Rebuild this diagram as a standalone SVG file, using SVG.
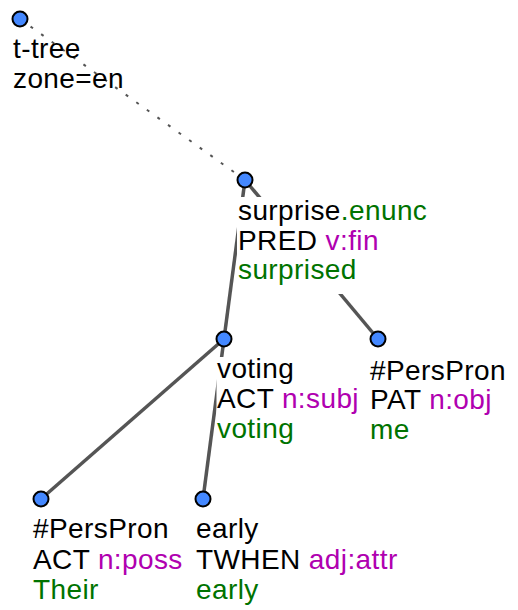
<svg xmlns="http://www.w3.org/2000/svg" width="518" height="610" viewBox="0 0 518 610">
<style>
text{font-family:"Liberation Sans",Arial,sans-serif;font-size:28px;letter-spacing:0.4px;fill:#000}
.g{fill:#007300}
.m{fill:#b000b0}
.e{stroke:#555;stroke-width:3.5;fill:none}
.d{stroke:#555;stroke-width:2;stroke-dasharray:3 10;fill:none}
.bg{fill:#fff}
.n{fill:#4488ff;stroke:#000;stroke-width:2}
</style>
<rect width="518" height="610" fill="#fff"/>
<g id="edges">
<line class="d" x1="20" y1="19" x2="245" y2="180"/>
<line class="e" x1="245" y1="180" x2="224" y2="339"/>
<line class="e" x1="245" y1="180" x2="378" y2="339"/>
<line class="e" x1="224" y1="339" x2="41" y2="499"/>
<line class="e" x1="224" y1="339" x2="203" y2="499"/>
</g>
<g id="root">
<circle class="n" cx="20" cy="19" r="7.5"/>
<text x="13" y="58">t-tree</text>
<text x="13" y="88">zone=en</text>
</g>
<g id="surprise">
<rect class="bg" x="237" y="197" width="193" height="97"/>
<circle class="n" cx="245" cy="180" r="7.5"/>
<text x="238" y="220">surprise<tspan class="g">.enunc</tspan></text>
<text x="238" y="250">PRED <tspan class="m">v:fin</tspan></text>
<text x="238" y="279" class="g">surprised</text>
</g>
<g id="voting">
<rect class="bg" x="216.5" y="357" width="146" height="95"/>
<circle class="n" cx="224" cy="339" r="7.5"/>
<text x="217" y="378">voting</text>
<text x="217" y="408">ACT <tspan class="m">n:subj</tspan></text>
<text x="217" y="438" class="g">voting</text>
</g>
<g id="perspron_pat">
<rect class="bg" x="369.5" y="357" width="140" height="95"/>
<circle class="n" cx="378" cy="339" r="7.5"/>
<text x="370" y="380">#PersPron</text>
<text x="370" y="409">PAT <tspan class="m">n:obj</tspan></text>
<text x="370" y="439" class="g">me</text>
</g>
<g id="perspron_act">
<rect class="bg" x="32" y="517" width="156" height="93"/>
<circle class="n" cx="41" cy="499" r="7.5"/>
<text x="33" y="538">#PersPron</text>
<text x="33" y="569">ACT <tspan class="m">n:poss</tspan></text>
<text x="33" y="599" class="g">Their</text>
</g>
<g id="early">
<rect class="bg" x="195" y="517" width="208" height="93"/>
<circle class="n" cx="203" cy="499" r="7.5"/>
<text x="196" y="538">early</text>
<text x="196" y="569">TWHEN <tspan class="m">adj:attr</tspan></text>
<text x="196" y="599" class="g">early</text>
</g>
</svg>
